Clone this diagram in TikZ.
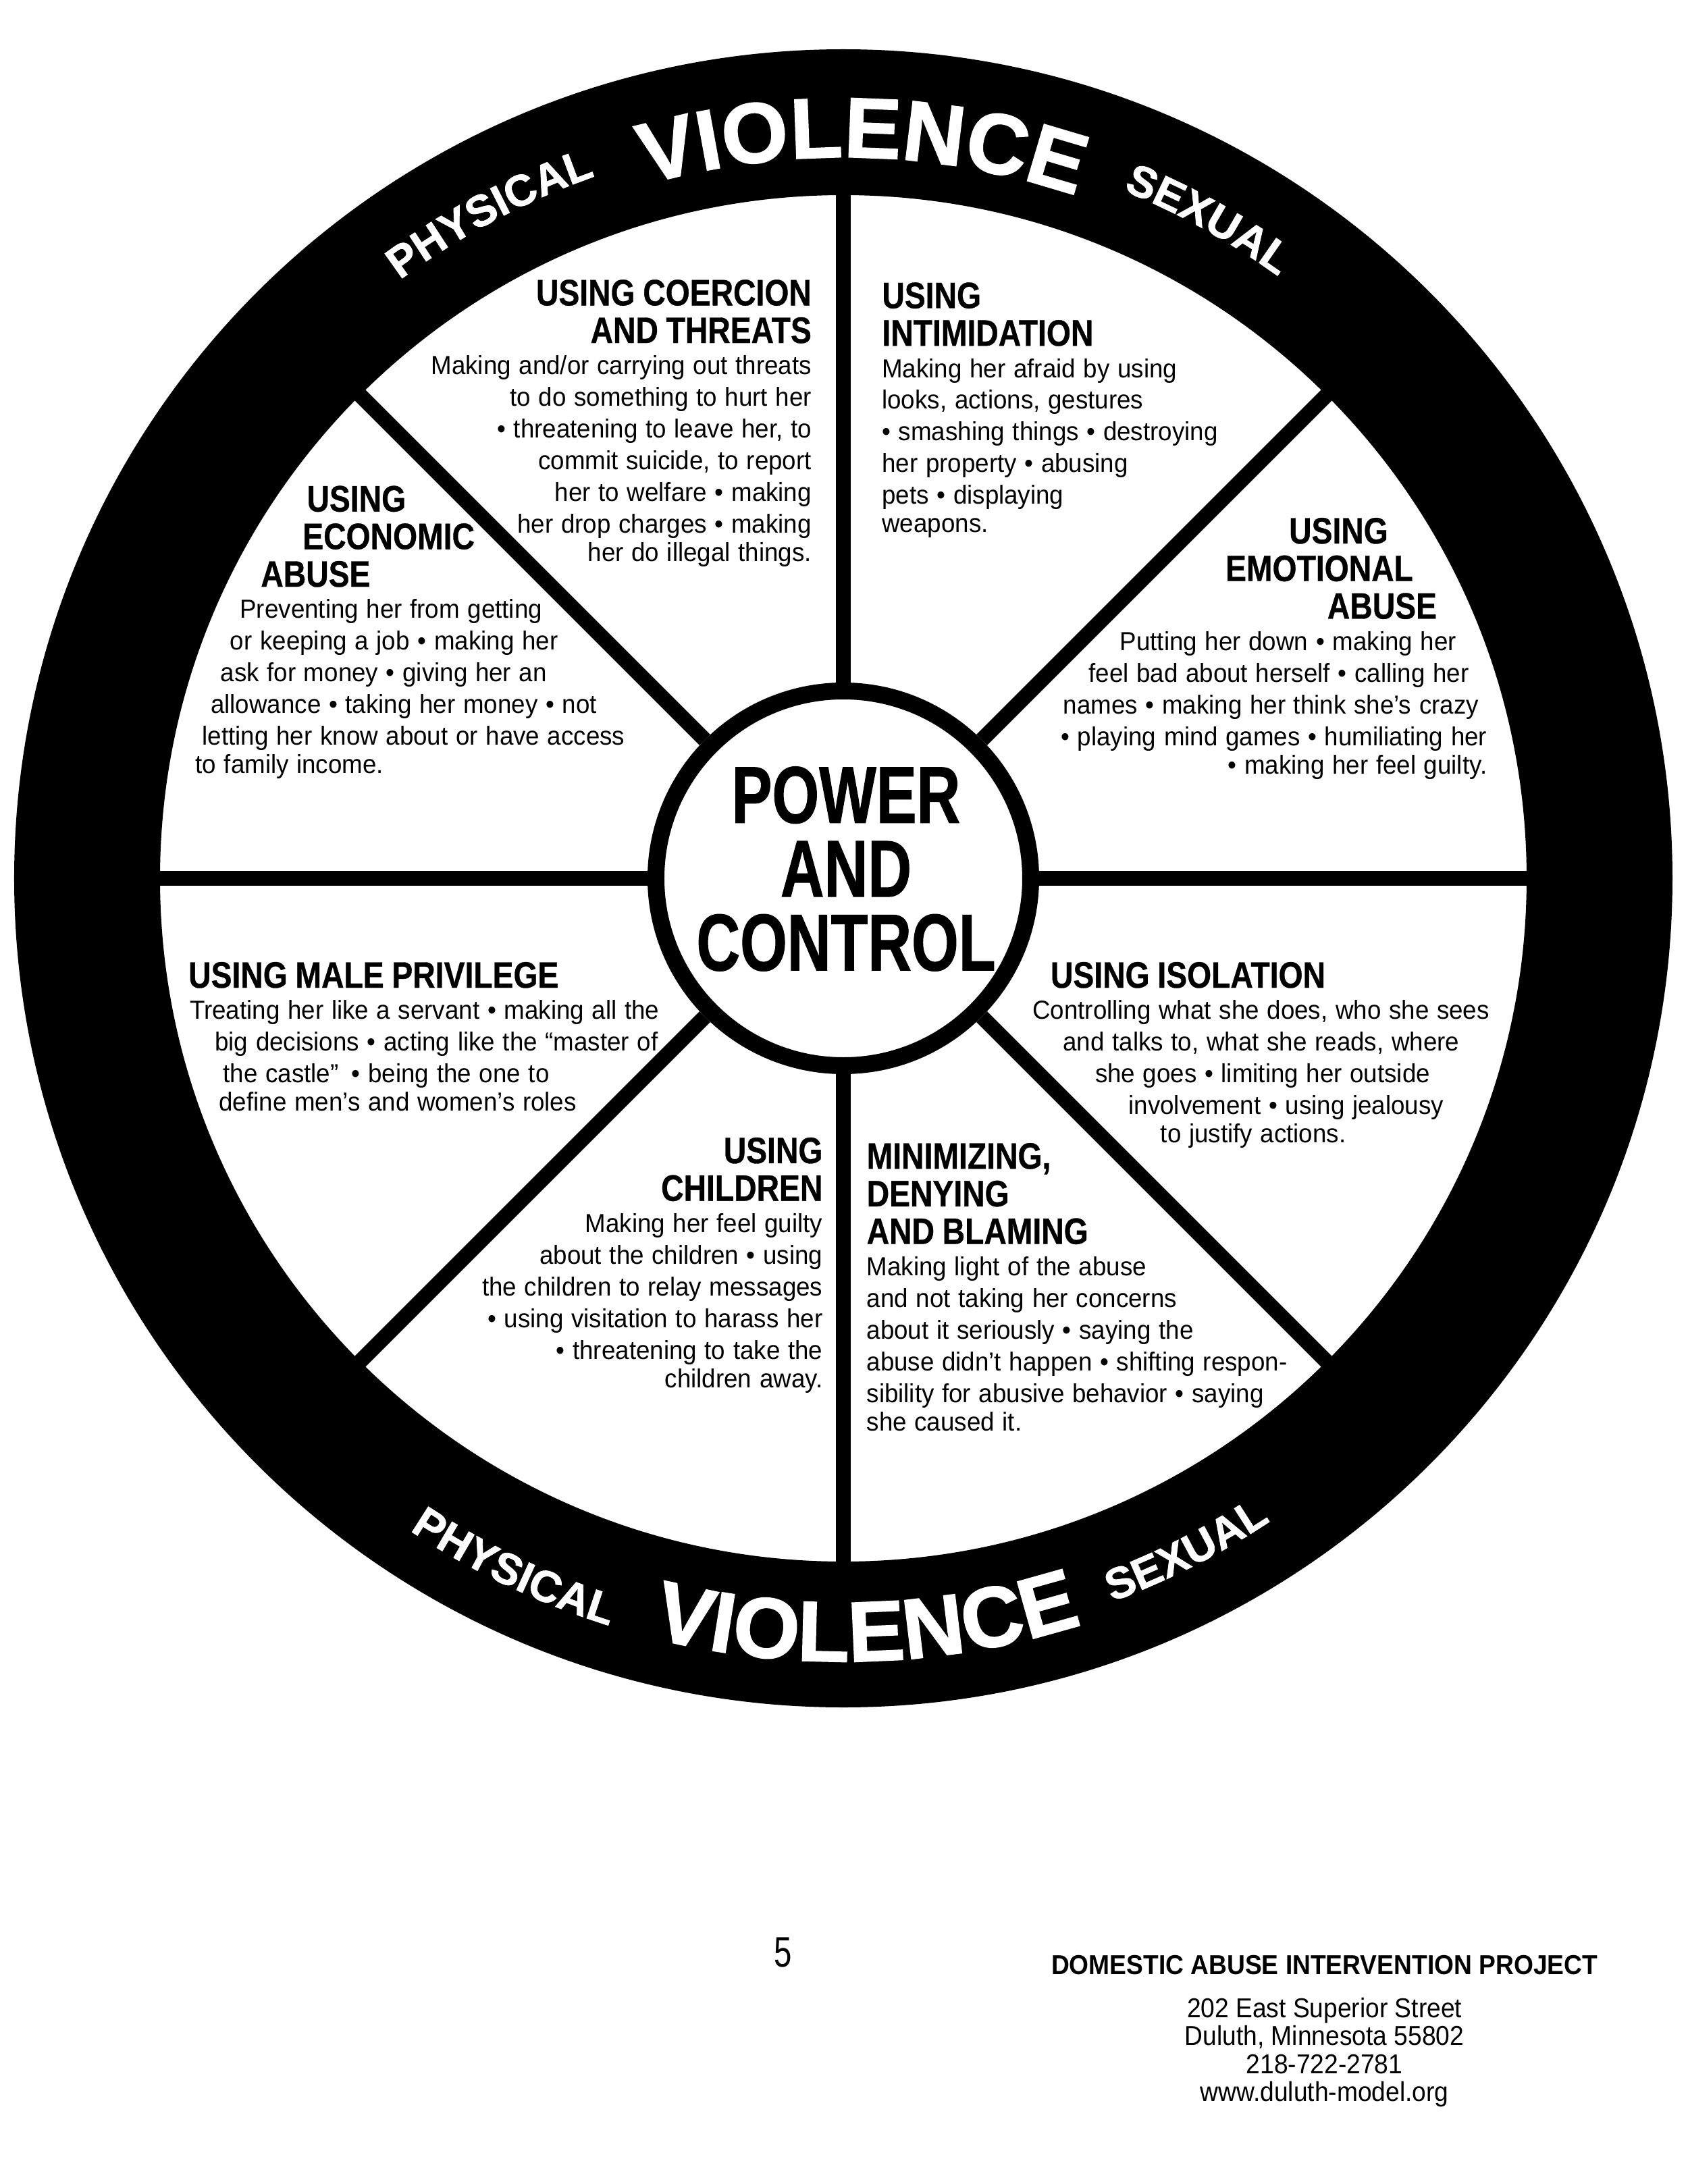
\documentclass[tikz,border=0pt]{standalone}
\usepackage{fontspec}
\setmainfont{Liberation Sans}
\newfontfamily\bodyfont{Liberation Sans}[FakeStretch=0.95]
\newfontfamily\titlefont{Liberation Sans}[FakeStretch=0.85,FakeBold=0.6]
\newfontfamily\hubfont{Liberation Sans}[FakeStretch=0.75,FakeBold=0.8]
\newfontfamily\pagefont{Liberation Sans}[FakeStretch=0.75]
\newfontfamily\violfont{Liberation Sans}[FakeStretch=1.0,FakeBold=1.5]
\newfontfamily\rimfont{Liberation Sans}[FakeStretch=1.0,FakeBold=1.2]
\newfontfamily\footfont{Liberation Sans}[FakeStretch=0.92]
\usetikzlibrary{positioning,decorations.text}

\newcommand{\wtitle}{\titlefont\bfseries\fontsize{15.5}{15.85}\selectfont}
\newcommand{\wbody}{\bodyfont\mdseries\fontsize{11}{13.35}\selectfont}
\newcommand{\padr}[1]{\hspace*{#1}\null}

\begin{document}
\begin{tikzpicture}[
    spoke/.style={line width=0.225cm},
    blockl/.style={anchor=north west, inner sep=0pt, text width=8cm, align=left},
    blockr/.style={anchor=north east, inner sep=0pt, text width=8cm, align=right},
    ringword/.style={decorate, decoration={text along path, text align=center, text color=white, text={#1}}}]
    \useasboundingbox (-12.49,-19.34) rectangle (12.51,13.01);
    \fill[white] (-12.49,-19.34) rectangle (12.51,13.01);

    \fill[even odd rule] (0,0) circle[radius=12.28cm] (0,0) circle[radius=10.12cm];

    \node[circle, draw, line width=0.25cm, minimum size=5.55cm, inner sep=0pt, fill=white] (hub) at (0,0) {};
    \foreach \a in {0,45,...,315} {
        \coordinate (rim\a) at (\a:10.2);
        \draw[spoke] (hub.\a) -- (rim\a);
    }
    \node[align=center, inner sep=0pt, font=\hubfont\bfseries\fontsize{34}{31.1}\selectfont] (hubtext) at (0.04,0.14) {POWER\\AND\\CONTROL};

    \path[ringword={|\violfont\bfseries\fontsize{36}{36}\selectfont|VIOLENCE}] (133.5:10.68) arc[start angle=133.5, end angle=43.5, radius=10.68cm];
    \path[ringword={|\rimfont\bfseries\fontsize{18.5}{18.5}\selectfont|PHYSICAL}] (148:11.03) arc[start angle=148, end angle=88, radius=11.03cm];
    \path[ringword={|\rimfont\bfseries\fontsize{18.5}{18.5}\selectfont|SEXUAL}] (91:11.0) arc[start angle=91, end angle=31, radius=11.0cm];
    \path[ringword={|\violfont\bfseries\fontsize{36}{36}\selectfont|VIOLENCE}] (226.8:11.6) arc[start angle=226.8, end angle=316.8, radius=11.6cm];
    \path[ringword={|\rimfont\bfseries\fontsize{18.5}{18.5}\selectfont|PHYSICAL}] (214.5:11.6) arc[start angle=214.5, end angle=274.5, radius=11.6cm];
    \path[ringword={|\rimfont\bfseries\fontsize{18.5}{18.5}\selectfont|SEXUAL}] (267:11.43) arc[start angle=267, end angle=327, radius=11.43cm];

    \node[blockr] (coercion) at (-0.464,8.874) {\wtitle USING COERCION\\AND THREATS\par
        \wbody Making and/or carrying out threats\\to do something to hurt her\\• threatening to leave her, to\\commit suicide, to report\\her to welfare • making\\her drop charges • making\\her do illegal things.};
    \node[blockl] (intimidation) at (0.567,8.833) {\wtitle USING\\INTIMIDATION\par
        \wbody Making her afraid by using\\looks, actions, gestures\\• smashing things • destroying\\her property • abusing\\pets • displaying\\weapons.};
    \node[blockl] (economic) at (-9.602,5.821) {\wtitle\hspace*{1.65cm}USING\\\hspace*{1.588cm}ECONOMIC\\\hspace*{0.969cm}ABUSE\par
        \wbody\hspace*{0.66cm}Preventing her from getting\\\hspace*{0.515cm}or keeping a job • making her\\\hspace*{0.371cm}ask for money • giving her an\\\hspace*{0.227cm}allowance • taking her money • not\\\hspace*{0.103cm}letting her know about or have access\\to family income.};
    \node[blockr] (emotional) at (9.54,5.347) {\wtitle USING\padr{1.465cm}\\EMOTIONAL\padr{1.094cm}\\ABUSE\padr{0.743cm}\par
        \wbody Putting her down • making her\padr{0.454cm}\\feel bad about herself • calling her\padr{0.269cm}\\names • making her think she’s crazy\padr{0.124cm}\\• playing mind games • humiliating her\\• making her feel guilty.};
    \node[blockl] (male) at (-9.705,-1.233) {\wtitle USING MALE PRIVILEGE\par
        \wbody\hspace*{0.02cm}Treating her like a servant • making all the\\\hspace*{0.392cm}big decisions • acting like the “master of\\\hspace*{0.515cm}the castle”\enspace • being the one to\\\hspace*{0.453cm}define men’s and women’s roles};
    \node[blockl] (isolation) at (2.795,-1.233) {\wtitle\hspace*{0.268cm}USING ISOLATION\par
        \wbody Controlling what she does, who she sees\\\hspace*{0.453cm}and talks to, what she reads, where\\\hspace*{0.928cm}she goes • limiting her outside\\\hspace*{1.423cm}involvement • using jealousy\\\hspace*{1.897cm}to justify actions.};
    \node[blockr] (children) at (-0.299,-3.832) {\wtitle USING\\CHILDREN\par
        \wbody Making her feel guilty\\about the children • using\\the children to relay messages\\• using visitation to harass her\\• threatening to take the\\children away.};
    \node[blockl] (minimizing) at (0.340,-3.914) {\wtitle MINIMIZING,\\DENYING\\AND BLAMING\par
        \wbody Making light of the abuse\\and not taking her concerns\\about it seriously • saying the\\abuse didn’t happen • shifting respon-\\sibility for abusive behavior • saying\\she caused it.};

    \node[inner sep=0pt, font=\pagefont\fontsize{18}{18}\selectfont] (pagenum) at (-0.898,-15.909) {5};
    \node[inner sep=0pt, font=\footfont\bfseries\fontsize{11.5}{12}\selectfont] (daip) at (7.126,-16.095) {DOMESTIC ABUSE INTERVENTION PROJECT};
    \node[inner sep=0pt, align=center, font=\footfont\fontsize{11.5}{11.74}\selectfont, below=0.33cm of daip] (address) {202 East Superior Street\\Duluth, Minnesota 55802\\218-722-2781\\www.duluth-model.org};
\end{tikzpicture}
\end{document}
